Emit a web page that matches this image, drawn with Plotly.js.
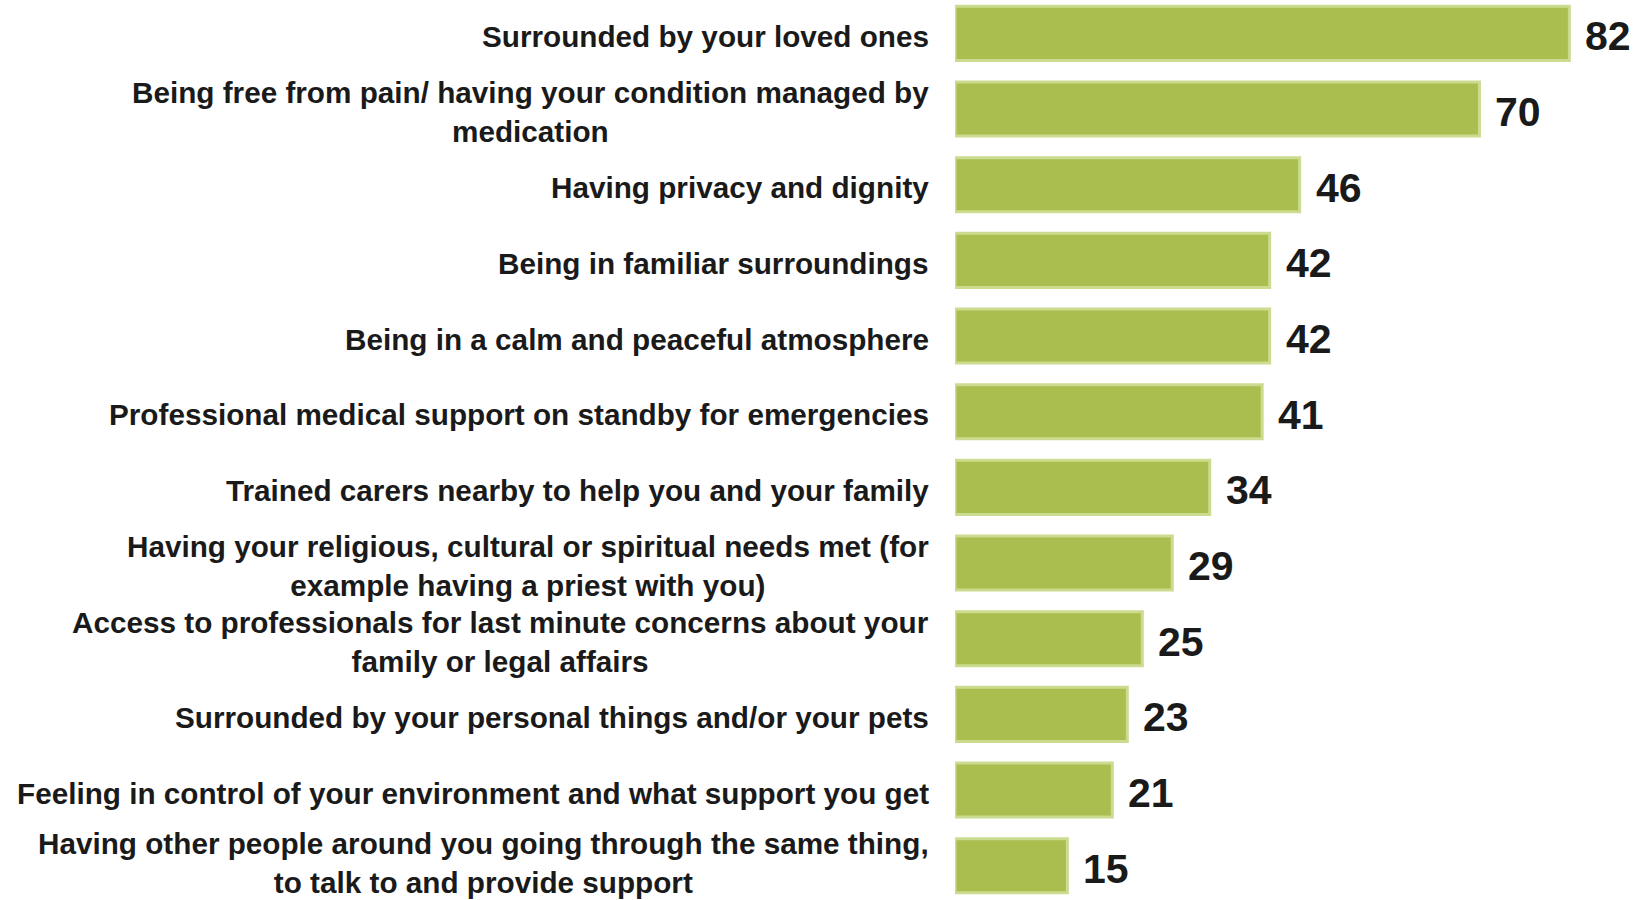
<!DOCTYPE html>
<html>
<head>
<meta charset="utf-8">
<script src="https://cdn.plot.ly/plotly-3.0.1.min.js"></script>
<style>html,body{margin:0;padding:0;background:#fff;}#chart{width:1642px;height:900px;}</style>
</head>
<body>
<div id="chart"></div>
<script>
const categories = [
  "Surrounded by your loved ones",
  "Being free from pain/ having your condition managed by<br>medication",
  "Having privacy and dignity",
  "Being in familiar surroundings",
  "Being in a calm and peaceful atmosphere",
  "Professional medical support on standby for emergencies",
  "Trained carers nearby to help you and your family",
  "Having your religious, cultural or spiritual needs met (for<br>example having a priest with you)",
  "Access to professionals for last minute concerns about your<br>family or legal affairs",
  "Surrounded by your personal things and/or your pets",
  "Feeling in control of your environment and what support you get",
  "Having other people around you going through the same thing,<br>to talk to and provide support"
];
const values = [82, 70, 46, 42, 42, 41, 34, 29, 25, 23, 21, 15];

const FONT = "'Liberation Sans', Arial, sans-serif";

const trace = {
  type: 'bar',
  orientation: 'h',
  y: categories,
  x: values,
  marker: {color: '#aabd4f', line: {color: '#cbdb8f', width: 3}},
  hoverinfo: 'x+y'
};

const lastIdx = categories.length - 1;
const labelAnns = categories.map((c, i) => ({
  xref: 'paper', yref: 'y', x: 0, y: c,
  text: '<b>' + c + '</b>',
  xanchor: 'right', yanchor: 'middle', align: 'center',
  xshift: -24, yshift: i === lastIdx ? 3 : -3, showarrow: false,
  font: {family: FONT, size: 29.7, color: '#1a1a1a'}
}));
const valueAnns = categories.map((c, i) => ({
  xref: 'x', yref: 'y', x: values[i], y: c,
  text: '<b>' + values[i] + '</b>',
  xanchor: 'left', yanchor: 'middle',
  xshift: 14, yshift: -3, showarrow: false,
  font: {family: FONT, size: 41, color: '#1a1a1a'}
}));

const layout = {
  width: 1642, height: 900,
  margin: {l: 955, r: 0, t: 0, b: 0},
  paper_bgcolor: '#ffffff', plot_bgcolor: '#ffffff',
  bargap: 0.286,
  showlegend: false,
  xaxis: {range: [0, 91.7], visible: false, fixedrange: true},
  yaxis: {type: 'category', range: [11.453, -0.441], showticklabels: false,
          showgrid: false, zeroline: false, showline: false, ticks: '', fixedrange: true},
  annotations: labelAnns.concat(valueAnns)
};

Plotly.newPlot('chart', [trace], layout, {displayModeBar: false, staticPlot: true});
</script>
</body>
</html>
